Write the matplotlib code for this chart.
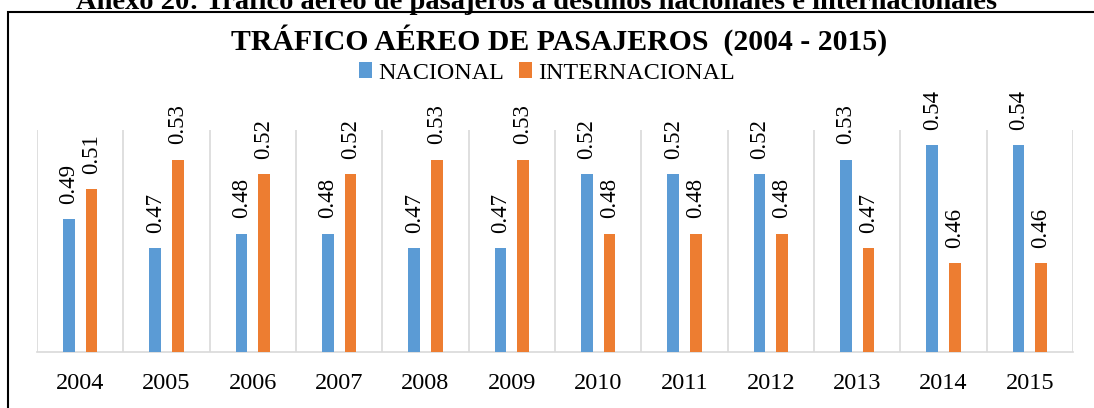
import matplotlib
matplotlib.use("Agg")
import matplotlib.pyplot as plt
from matplotlib.patches import Rectangle
import numpy as np

years = ["2004", "2005", "2006", "2007", "2008", "2009",
         "2010", "2011", "2012", "2013", "2014", "2015"]
nacional = [0.49, 0.47, 0.48, 0.48, 0.47, 0.47, 0.52, 0.52, 0.52, 0.53, 0.54, 0.54]
internacional = [0.51, 0.53, 0.52, 0.52, 0.53, 0.53, 0.48, 0.48, 0.48, 0.47, 0.46, 0.46]

plt.rcParams['font.family'] = ['Liberation Serif', 'DejaVu Serif']

W, H = 1094, 408
fig = plt.figure(figsize=(W / 100, H / 100), dpi=100)

# outer border (right and bottom edges lie outside the picture)
fig.patches.append(Rectangle((8 / W, -0.05), 1.1, (H - 12) / H + 0.05,
                             transform=fig.transFigure, fill=False,
                             edgecolor='black', linewidth=1.5))

# clipped caption at very top
fig.text(537 / W, 1 - 9 / H,
         "Anexo 20: Tráfico aéreo de pasajeros a destinos nacionales e internacionales",
         ha='center', va='baseline', fontsize=20.5, fontweight='bold')

ax = fig.add_axes([37 / W, (H - 352) / H, (1073 - 37) / W, (352 - 130) / H])

x = np.arange(len(years))
off = 0.13
bw = 0.135
c_nac = '#5B9BD5'
c_int = '#ED7D31'
b1 = ax.bar(x - off, nacional, bw, color=c_nac, label='NACIONAL', zorder=3)
b2 = ax.bar(x + off, internacional, bw, color=c_int, label='INTERNACIONAL', zorder=3)

for bars, vals in ((b1, nacional), (b2, internacional)):
    for rect, v in zip(bars, vals):
        ax.annotate(f"{v:.2f}", (rect.get_x() + rect.get_width() / 2, v),
                    xytext=(0, 11), textcoords='offset points',
                    rotation=90, ha='center', va='bottom', fontsize=16.5)

ax.set_ylim(0.40, 0.55)
ax.set_xlim(-0.5, len(years) - 0.5)
ax.set_xticks(x)
ax.set_xticklabels(years, fontsize=17.5)
ax.tick_params(axis='x', length=0, pad=15)
ax.set_yticks([])
for b in np.arange(-0.5, len(years), 1.0):
    ax.axvline(b, color='#d9d9d9', linewidth=1.2, zorder=1)
for s in ('top', 'left', 'right'):
    ax.spines[s].set_visible(False)
ax.spines['bottom'].set_color('#d9d9d9')
ax.spines['bottom'].set_linewidth(1.2)
ax.patch.set_alpha(0)

fig.text(559 / W, 1 - 40 / H, "TRÁFICO AÉREO DE PASAJEROS  (2004 - 2015)",
         ha='center', va='center', fontsize=21.4, fontweight='bold')

fig.legend(handles=[b1, b2], loc='center', bbox_to_anchor=(547 / W, 1 - 73 / H),
           ncol=2, frameon=False, fontsize=17.3, handlelength=0.55, handleheight=0.6,
           handletextpad=0.25, columnspacing=0.6, borderaxespad=0)

fig.savefig("out.png", dpi=100)
